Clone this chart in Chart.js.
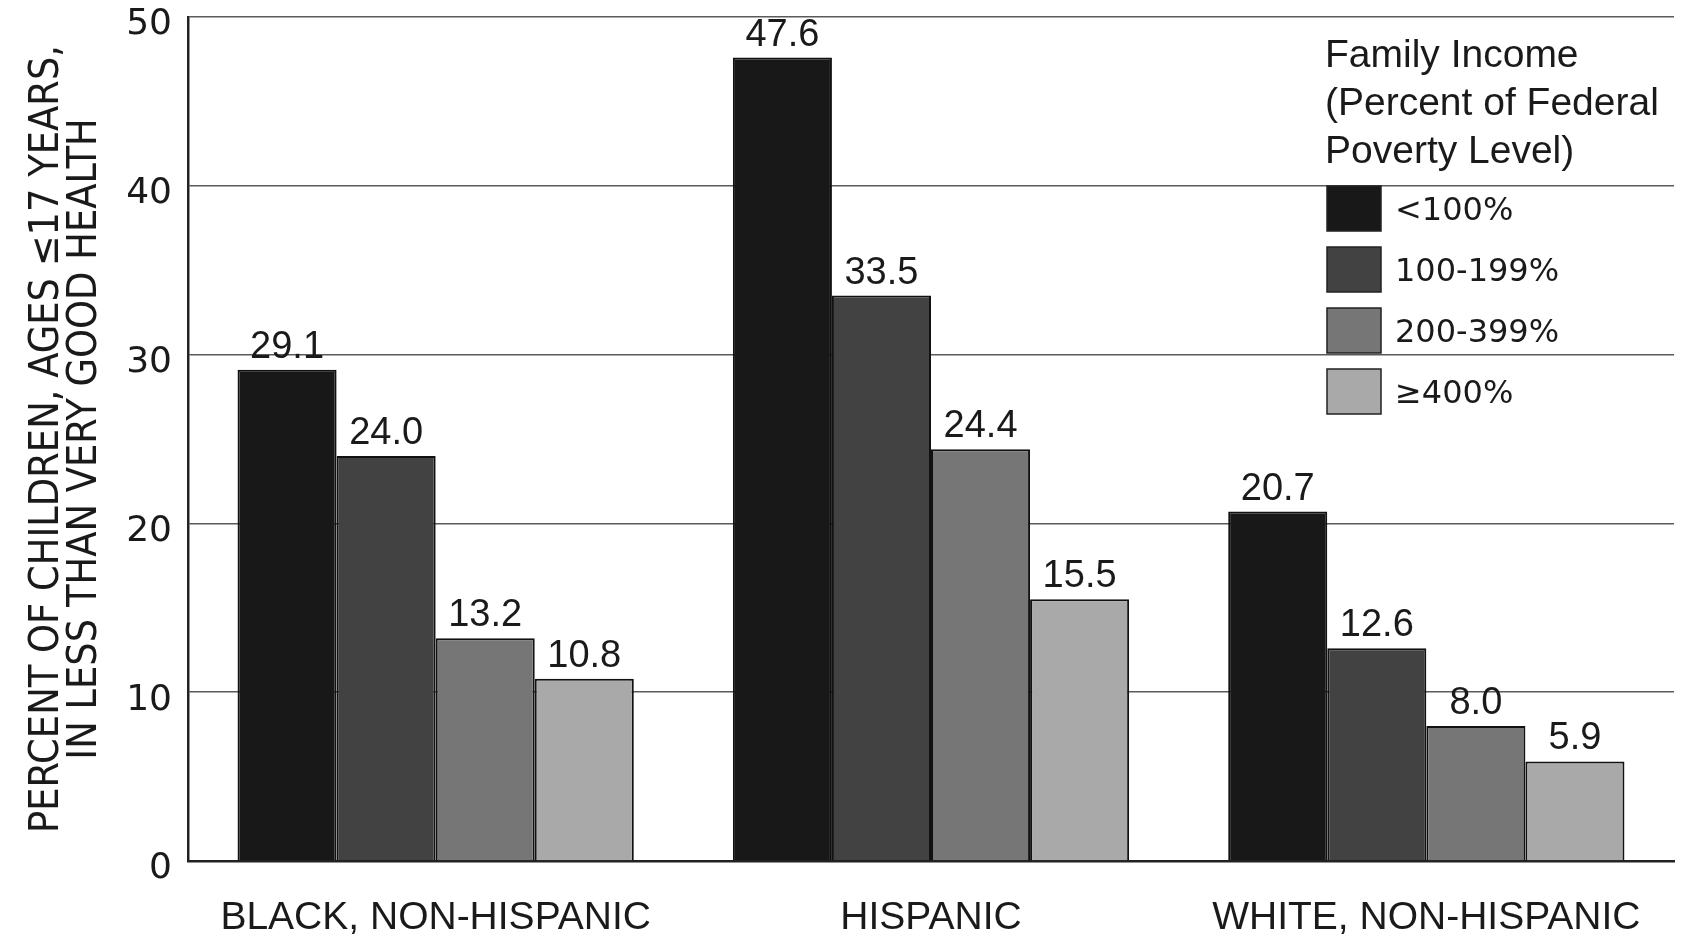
<!DOCTYPE html>
<html>
<head>
<meta charset="utf-8">
<script src="https://cdn.jsdelivr.net/npm/chart.js@4.4.0/dist/chart.umd.min.js"></script>
<style>
  html, body { margin: 0; padding: 0; background: #fff; }
  #wrap { width: 1683px; height: 934px; }
</style>
</head>
<body>
<div id="wrap"><canvas id="chart"></canvas></div>
<script>
// data
const groups = ['BLACK, NON-HISPANIC', 'HISPANIC', 'WHITE, NON-HISPANIC'];
const incomeLevels = ['<100%', '100-199%', '200-399%', '\u2265400%'];
const below100 = [29.1, 47.6, 20.7];
const from100to199 = [24.0, 33.5, 12.6];
const from200to399 = [13.2, 24.4, 8.0];
const atLeast400 = [10.8, 15.5, 5.9];
const yTicks = [0, 10, 20, 30, 40, 50];
const legendTitle = ['Family Income', '(Percent of Federal', 'Poverty Level)'];
const yTitle = ['PERCENT OF CHILDREN, AGES \u226417 YEARS,', 'IN LESS THAN VERY GOOD HEALTH'];

const fills = ['#181818', '#424242', '#767676', '#a9a9a9'];
const series = [below100, from100to199, from200to399, atLeast400];

const sans = "'Liberation Sans', Arial, sans-serif";
const narrow = "'Liberation Sans Narrow', 'DejaVu Sans Condensed', sans-serif";
const wide = "'DejaVu Sans', Verdana, sans-serif";

// numbers above each bar
const valueLabels = {
    id: 'valueLabels',
    afterDatasetsDraw(chart) {
        const ctx = chart.ctx;
        ctx.save();
        ctx.font = '38px ' + sans;
        ctx.fillStyle = '#1a1a1a';
        ctx.textAlign = 'center';
        ctx.textBaseline = 'alphabetic';
        chart.data.datasets.forEach((ds, i) => {
            chart.getDatasetMeta(i).data.forEach((bar, j) => {
                ctx.fillText(ds.data[j].toFixed(1), bar.x, bar.y - 12);
            });
        });
        ctx.restore();
    }
};

// legend drawn inside the plot, top right
const insideLegend = {
    id: 'insideLegend',
    afterDraw(chart) {
        const ctx = chart.ctx;
        const x0 = 1325;
        ctx.save();
        ctx.fillStyle = '#1a1a1a';
        ctx.textBaseline = 'middle';
        ctx.textAlign = 'left';
        ctx.font = '39px ' + sans;
        legendTitle.forEach((line, i) => ctx.fillText(line, x0, 56 + i * 48));
        ctx.font = '32px ' + wide;
        chart.data.datasets.forEach((ds, i) => {
            const y = 186 + i * 61;
            ctx.fillStyle = ds.backgroundColor;
            ctx.fillRect(x0 + 2, y, 54, 45);
            ctx.strokeStyle = '#222';
            ctx.lineWidth = 1.5;
            ctx.strokeRect(x0 + 2, y, 54, 45);
            ctx.fillStyle = '#1a1a1a';
            ctx.fillText(ds.label, x0 + 70, y + 26);
        });
        ctx.restore();
    }
};

new Chart(document.getElementById('chart'), {
    type: 'bar',
    data: {
        labels: groups,
        datasets: incomeLevels.map((lvl, i) => ({
            label: lvl,
            data: series[i],
            backgroundColor: fills[i],
            borderColor: '#111',
            borderWidth: 2,
            categoryPercentage: 0.8,
            barPercentage: 1.0
        }))
    },
    options: {
        responsive: true,
        maintainAspectRatio: false,
        animation: false,
        layout: { padding: { top: 17, right: 9, left: 0, bottom: 0 } },
        plugins: {
            legend: { display: false },
            tooltip: { enabled: false }
        },
        scales: {
            x: {
                grid: { display: false },
                border: { display: true, color: '#222', width: 2.5 },
                ticks: {
                    color: '#1a1a1a',
                    font: { family: sans, size: 39, lineHeight: 1 },
                    padding: 30,
                    maxRotation: 0,
                    autoSkip: false
                },
                afterFit(s) { s.height = 73; s.paddingLeft = 0; s.paddingRight = 0; }
            },
            y: {
                min: 0,
                max: 50,
                afterBuildTicks(s) { s.ticks = yTicks.map(v => ({ value: v })); },
                grid: { color: '#5a5a5a', lineWidth: 1.5, drawTicks: false },
                border: { display: true, color: '#222', width: 2.5 },
                ticks: {
                    color: '#1a1a1a',
                    font: { family: wide, size: 36 },
                    padding: 16,
                    labelOffset: 8
                },
                title: {
                    display: true,
                    text: yTitle,
                    color: '#1a1a1a',
                    font: { family: narrow, size: 41, lineHeight: 38 / 41 },
                    padding: { top: 28, bottom: 0 }
                },
                afterFit(s) { s.width = 188; s.paddingTop = 0; s.paddingBottom = 0; }
            }
        }
    },
    plugins: [valueLabels, insideLegend]
});
</script>
</body>
</html>
